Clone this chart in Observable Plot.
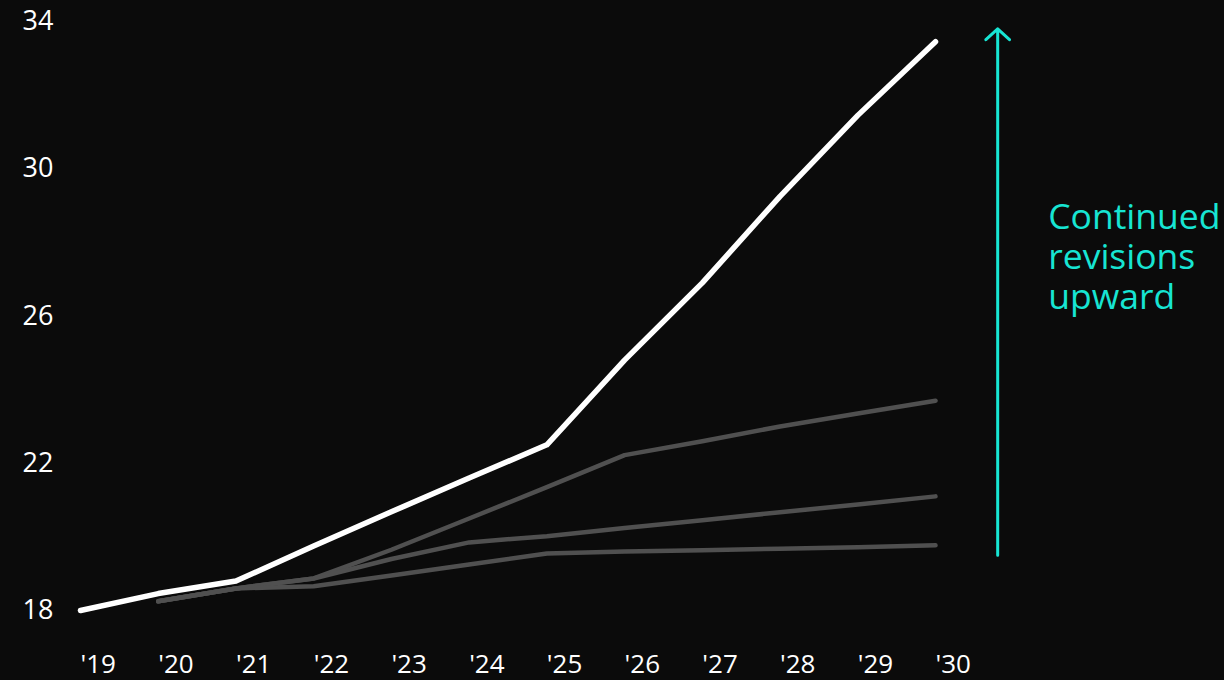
<!DOCTYPE html>
<html>
<head>
<meta charset="utf-8">
<script src="https://cdn.jsdelivr.net/npm/d3@7"></script>
<script src="https://cdn.jsdelivr.net/npm/@observablehq/plot@0.6"></script>
<style>
  html, body { margin: 0; padding: 0; background: #0b0b0b; }
  #chart { width: 1224px; height: 680px; }
</style>
</head>
<body>
<div id="chart"></div>
<script>
// Years on the x axis
const years = [2019, 2020, 2021, 2022, 2023, 2024, 2025, 2026, 2027, 2028, 2029, 2030];
// Latest forecast (white)
const latestForecast = [18.0, 18.46, 18.8, 19.75, 20.68, 21.6, 22.5, 24.8, 26.9, 29.25, 31.45, 33.45];
// Earlier forecasts (gray)
const earlierForecastA = [null, 18.25, 18.6, 18.87, 19.65, 20.5, 21.35, 22.22, 22.6, 23.0, 23.35, 23.7];
const earlierForecastB = [null, 18.25, 18.6, 18.87, 19.4, 19.85, 20.02, 20.24, 20.45, 20.67, 20.88, 21.1];
const earlierForecastC = [null, 18.25, 18.6, 18.66, 18.95, 19.25, 19.55, 19.6, 19.64, 19.68, 19.72, 19.77];
const yTicks = [18, 22, 26, 30, 34];
const annotationText = "Continued\nrevisions\nupward";

const teal = "#17e5d3";

const grayRows = [];
[earlierForecastA, earlierForecastB, earlierForecastC].forEach((arr, i) => {
  arr.forEach((v, j) => { if (v != null) grayRows.push({year: years[j], value: v, series: "earlier" + i}); });
});
const whiteRows = years.map((y, j) => ({year: y, value: latestForecast[j]}));

const arrowYear = 2030.8;
const textYear = 2031.45;

const chart = Plot.plot({
  width: 1224,
  height: 680,
  marginLeft: 80,
  marginRight: 289,
  marginTop: 21,
  marginBottom: 70,
  style: { background: "#0b0b0b", color: "#ffffff", fontFamily: "'Open Sans', 'Noto Sans', sans-serif" },
  x: { domain: [2019, 2030] },
  y: { domain: [18, 34] },
  marks: [
    Plot.axisY({ ticks: yTicks, tickSize: 0, tickPadding: 27, fontSize: 27, label: null }),
    Plot.axisX({ ticks: years, tickFormat: d => "'" + String(d).slice(2), tickSize: 0, tickPadding: 44, textAnchor: "start", fontSize: 26, label: null }),
    Plot.line(grayRows, { x: "year", y: "value", z: "series", stroke: "#505050", strokeWidth: 4.5 }),
    Plot.line(whiteRows, { x: "year", y: "value", stroke: "#ffffff", strokeWidth: 5.5 }),
    Plot.arrow([{}], { x1: arrowYear, x2: arrowYear, y1: 19.5, y2: 33.8, stroke: teal, strokeWidth: 3, headLength: 8, headAngle: 95 }),
    Plot.text([annotationText], { x: textYear, y: 29.15, text: d => d, fill: teal, fontSize: 35.5, textAnchor: "start", lineAnchor: "top", lineHeight: 1.13 })
  ]
});
document.getElementById("chart").appendChild(chart);
</script>
</body>
</html>
